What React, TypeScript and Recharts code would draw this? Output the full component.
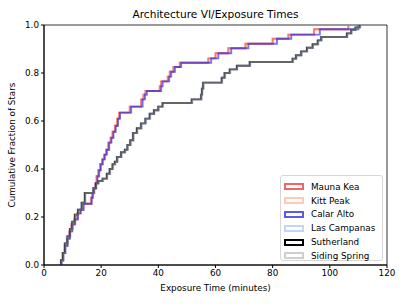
import React from 'react';
import { LineChart, Line, XAxis, YAxis, ReferenceArea } from 'recharts';

// step points: exposure time (min) -> cumulative fraction
const maunaKeaTime = [6.0, 6.0, 6.6, 7.3, 8.0, 8.8, 9.6, 10.6, 11.6, 12.6, 13.6, 16.5, 16.9, 17.4, 17.9, 18.4, 19.0, 19.6, 20.3, 21.0, 21.7, 22.5, 23.3, 24.0, 24.8, 25.6, 26.3, 30.0, 34.0, 34.8, 35.5, 40.5, 41.0, 43.3, 44.0, 45.3, 47.5, 57.5, 60.0, 64.5, 70.5, 80.0, 85.5, 94.5, 106.5];
const maunaKeaFrac = [0, 0.02, 0.05, 0.08, 0.11, 0.14, 0.17, 0.19, 0.215, 0.23, 0.255, 0.28, 0.3, 0.32, 0.34, 0.37, 0.395, 0.42, 0.44, 0.46, 0.48, 0.51, 0.53, 0.555, 0.58, 0.61, 0.635, 0.66, 0.69, 0.71, 0.725, 0.745, 0.765, 0.785, 0.805, 0.825, 0.843, 0.861, 0.882, 0.903, 0.922, 0.943, 0.96, 0.982, 1.0];

const kittPeakTime = [6.0, 6.0, 6.6, 7.3, 8.0, 8.8, 9.6, 10.6, 11.6, 12.6, 13.6, 16.5, 16.9, 17.4, 17.9, 18.4, 19.0, 19.6, 20.3, 21.0, 21.7, 22.5, 23.3, 24.0, 24.8, 25.6, 26.3, 30.0, 34.0, 34.8, 35.5, 40.5, 41.0, 43.3, 44.0, 45.3, 47.5, 57.5, 60.0, 64.5, 70.5, 80.0, 85.5, 94.5, 106.5];
const kittPeakFrac = [0, 0.02, 0.05, 0.08, 0.11, 0.14, 0.17, 0.19, 0.215, 0.23, 0.255, 0.28, 0.3, 0.32, 0.34, 0.37, 0.395, 0.42, 0.44, 0.46, 0.48, 0.51, 0.53, 0.555, 0.58, 0.61, 0.635, 0.66, 0.69, 0.71, 0.725, 0.745, 0.765, 0.785, 0.805, 0.825, 0.843, 0.861, 0.882, 0.903, 0.922, 0.943, 0.96, 0.982, 1.0];

const calarAltoTime = [6.2, 6.2, 6.8, 7.5, 8.3, 9.1, 9.9, 10.9, 11.9, 12.9, 13.9, 16.7, 17.1, 17.6, 18.1, 18.7, 19.3, 19.9, 20.6, 21.3, 22.0, 22.8, 23.6, 24.3, 25.1, 25.9, 26.6, 30.5, 34.5, 35.3, 36.0, 41.0, 41.5, 43.8, 44.5, 45.8, 48.0, 58.5, 61.0, 65.5, 71.5, 81.5, 86.5, 96.5, 110.0];
const calarAltoFrac = [0, 0.02, 0.05, 0.08, 0.11, 0.14, 0.17, 0.19, 0.215, 0.23, 0.255, 0.28, 0.3, 0.32, 0.34, 0.37, 0.395, 0.42, 0.44, 0.46, 0.48, 0.51, 0.53, 0.555, 0.58, 0.61, 0.635, 0.66, 0.69, 0.71, 0.725, 0.745, 0.765, 0.785, 0.805, 0.825, 0.843, 0.861, 0.882, 0.903, 0.922, 0.943, 0.96, 0.982, 1.0];

const lasCampanasTime = [5.8, 5.8, 6.4, 7.1, 8.0, 8.9, 9.7, 10.6, 11.7, 13.0, 14.1, 17.1, 18.0, 18.8, 20.3, 21.8, 22.8, 23.8, 24.6, 25.4, 26.8, 28.1, 29.0, 30.0, 31.0, 32.3, 33.8, 35.3, 36.8, 38.3, 39.8, 41.3, 51.5, 54.8, 55.1, 55.5, 62.0, 63.0, 64.8, 67.3, 71.8, 86.8, 88.0, 89.8, 91.8, 93.8, 95.6, 96.8, 105.8, 107.3, 108.8, 110.3];
const lasCampanasFrac = [0, 0.02, 0.05, 0.09, 0.12, 0.15, 0.18, 0.21, 0.23, 0.26, 0.3, 0.32, 0.34, 0.35, 0.36, 0.38, 0.4, 0.42, 0.43, 0.45, 0.47, 0.48, 0.5, 0.52, 0.55, 0.57, 0.59, 0.61, 0.63, 0.645, 0.66, 0.675, 0.69, 0.71, 0.735, 0.76, 0.78, 0.8, 0.815, 0.83, 0.846, 0.86, 0.874, 0.89, 0.905, 0.92, 0.936, 0.95, 0.965, 0.98, 0.99, 1.0];

const sutherlandTime = [6.0, 6.0, 6.6, 7.3, 8.2, 9.1, 9.9, 10.8, 11.9, 13.2, 14.3, 17.3, 18.2, 19.0, 20.5, 22.0, 23.0, 24.0, 24.8, 25.6, 27.0, 28.3, 29.2, 30.2, 31.2, 32.5, 34.0, 35.5, 37.0, 38.5, 40.0, 41.5, 51.7, 55.0, 55.3, 55.7, 62.2, 63.2, 65.0, 67.5, 72.0, 87.0, 88.2, 90.0, 92.0, 94.0, 95.8, 97.0, 106.0, 107.5, 109.0, 110.5];
const sutherlandFrac = [0, 0.02, 0.05, 0.09, 0.12, 0.15, 0.18, 0.21, 0.23, 0.26, 0.3, 0.32, 0.34, 0.35, 0.36, 0.38, 0.4, 0.42, 0.43, 0.45, 0.47, 0.48, 0.5, 0.52, 0.55, 0.57, 0.59, 0.61, 0.63, 0.645, 0.66, 0.675, 0.69, 0.71, 0.735, 0.76, 0.78, 0.8, 0.815, 0.83, 0.846, 0.86, 0.874, 0.89, 0.905, 0.92, 0.936, 0.95, 0.965, 0.98, 0.99, 1.0];

const sidingSpringTime = [6.2, 6.2, 6.8, 7.5, 8.4, 9.3, 10.1, 11.0, 12.1, 13.4, 14.5, 17.5, 18.4, 19.2, 20.7, 22.2, 23.2, 24.2, 25.0, 25.8, 27.2, 28.5, 29.4, 30.4, 31.4, 32.7, 34.2, 35.7, 37.2, 38.7, 40.2, 41.7, 51.9, 55.2, 55.5, 55.9, 62.4, 63.4, 65.2, 67.7, 72.2, 87.2, 88.4, 90.2, 92.2, 94.2, 96.0, 97.2, 106.2, 107.7, 109.2, 110.7];
const sidingSpringFrac = [0, 0.02, 0.05, 0.09, 0.12, 0.15, 0.18, 0.21, 0.23, 0.26, 0.3, 0.32, 0.34, 0.35, 0.36, 0.38, 0.4, 0.42, 0.43, 0.45, 0.47, 0.48, 0.5, 0.52, 0.55, 0.57, 0.59, 0.61, 0.63, 0.645, 0.66, 0.675, 0.69, 0.71, 0.735, 0.76, 0.78, 0.8, 0.815, 0.83, 0.846, 0.86, 0.874, 0.89, 0.905, 0.92, 0.936, 0.95, 0.965, 0.98, 0.99, 1.0];

const xTicks = [0, 20, 40, 60, 80, 100, 120];
const yTicks = [0, 0.2, 0.4, 0.6, 0.8, 1.0];

const toPoints = (t: number[], f: number[]) => t.map((x, i) => ({ x, y: f[i] }));

const series = [
  { name: 'Mauna Kea', data: toPoints(maunaKeaTime, maunaKeaFrac), stroke: '#e41a1c', opacity: 0.7, legend: '#f06565' },
  { name: 'Kitt Peak', data: toPoints(kittPeakTime, kittPeakFrac), stroke: '#ffa07a', opacity: 0.5, legend: '#ffc9b3' },
  { name: 'Calar Alto', data: toPoints(calarAltoTime, calarAltoFrac), stroke: '#1a1ae6', opacity: 0.6, legend: '#5a5af0' },
  { name: 'Las Campanas', data: toPoints(lasCampanasTime, lasCampanasFrac), stroke: '#9ab2ff', opacity: 0.6, legend: '#c4d2ff' },
  { name: 'Sutherland', data: toPoints(sutherlandTime, sutherlandFrac), stroke: '#000000', opacity: 0.8, legend: '#000000' },
  { name: 'Siding Spring', data: toPoints(sidingSpringTime, sidingSpringFrac), stroke: '#a0a0a0', opacity: 0.5, legend: '#cfcfcf' },
];

const font = '"DejaVu Sans", sans-serif';

export default function App() {
  return (
    <div style={{ position: 'absolute', left: 0, top: 0, width: 407, height: 305, background: '#fff', fontFamily: font }}>
      <LineChart width={407} height={305} margin={{ top: 25, right: 20, bottom: 0, left: 0 }}>
        <XAxis
          type="number"
          dataKey="x"
          domain={[0, 120]}
          ticks={xTicks}
          allowDataOverflow
          tickSize={3}
          tick={{ fontSize: 8.8, fill: '#000', fontFamily: font }}
          stroke="#000"
          tickLine={{ stroke: '#000' }}
          height={40}
        />
        <YAxis
          type="number"
          dataKey="y"
          domain={[0, 1]}
          ticks={yTicks}
          allowDataOverflow
          width={44}
          tickSize={3}
          tickFormatter={(v: number) => v.toFixed(1)}
          tick={{ fontSize: 8.8, fill: '#000', fontFamily: font }}
          stroke="#000"
          tickLine={{ stroke: '#000' }}
        />
        {series.map((s) => (
          <Line
            key={s.name}
            data={s.data}
            dataKey="y"
            name={s.name}
            type="stepAfter"
            stroke={s.stroke}
            strokeOpacity={s.opacity}
            strokeWidth={1.9}
            dot={false}
            isAnimationActive={false}
          />
        ))}
        <ReferenceArea x1={0} x2={120} y1={0} y2={1} fill="none" stroke="#000" strokeWidth={0.8} />
      </LineChart>
      <div style={{ position: 'absolute', left: 0, width: 407, top: 8, textAlign: 'center', paddingLeft: 24, boxSizing: 'border-box', fontSize: 10.6 }}>
        Architecture VI/Exposure Times
      </div>
      <div style={{ position: 'absolute', left: 44, width: 343, top: 283, textAlign: 'center', fontSize: 8.8 }}>
        Exposure Time (minutes)
      </div>
      <div style={{ position: 'absolute', left: 12, top: 145, fontSize: 8.8, whiteSpace: 'nowrap', transform: 'translate(-50%, -50%) rotate(-90deg)' }}>
        Cumulative Fraction of Stars
      </div>
      <div style={{ position: 'absolute', left: 280, top: 175, width: 103, height: 86, boxSizing: 'border-box', border: '1px solid #d6d6d6', borderRadius: 3, background: 'rgba(255,255,255,0.8)', padding: '4px 0 0 3px' }}>
        {series.map((s) => (
          <div key={s.name} style={{ display: 'flex', alignItems: 'center', height: 13.8, fontSize: 8.8, whiteSpace: 'nowrap' }}>
            <div style={{ width: 20, height: 7, boxSizing: 'border-box', border: `2px solid ${s.legend}`, marginRight: 7, flexShrink: 0 }} />
            <span>{s.name}</span>
          </div>
        ))}
      </div>
    </div>
  );
}
